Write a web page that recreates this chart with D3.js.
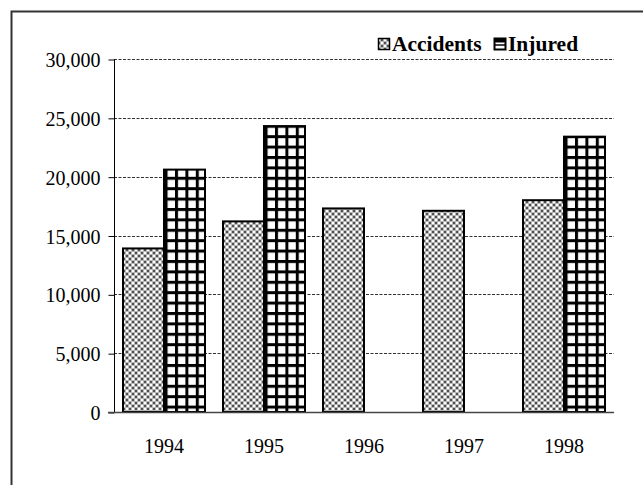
<!DOCTYPE html>
<html>
<head>
<meta charset="utf-8">
<script src="https://cdn.jsdelivr.net/npm/d3@7/dist/d3.min.js"></script>
<style>
  html, body { margin: 0; padding: 0; background: #fff; }
  svg { display: block; }
  text { font-family: "Liberation Serif", "Times New Roman", serif; fill: #000; }
</style>
</head>
<body>
<script>
const years = ["1994", "1995", "1996", "1997", "1998"];
const seriesNames = ["Accidents", "Injured"];
const accidents = [13900, 16200, 17300, 17100, 18000];
const injured = [20600, 24300, null, null, 23400];
const yTicks = [0, 5000, 10000, 15000, 20000, 25000, 30000];

const W = 643, H = 485;
const svg = d3.select("body").append("svg").attr("width", W).attr("height", H);
const defs = svg.append("defs");

// Accidents pattern: gray checker with white dots
const pA = defs.append("pattern").attr("id", "pA").attr("patternUnits", "userSpaceOnUse")
  .attr("width", 6).attr("height", 6);
pA.append("rect").attr("width", 6).attr("height", 6).attr("fill", "#b8b8b8");
pA.append("rect").attr("x", 0).attr("y", 0).attr("width", 2).attr("height", 2).attr("fill", "#505050");
pA.append("rect").attr("x", 3).attr("y", 3).attr("width", 2).attr("height", 2).attr("fill", "#505050");
pA.append("rect").attr("x", 3).attr("y", 0).attr("width", 2).attr("height", 2).attr("fill", "#ffffff");
pA.append("rect").attr("x", 0).attr("y", 3).attr("width", 2).attr("height", 2).attr("fill", "#ffffff");

// Injured pattern: white squares with thick black grid
const pI = defs.append("pattern").attr("id", "pI").attr("patternUnits", "userSpaceOnUse")
  .attr("width", 10.4).attr("height", 10.4);
pI.append("rect").attr("width", 10.4).attr("height", 10.4).attr("fill", "#ffffff");
pI.append("rect").attr("x", 0).attr("y", 0).attr("width", 3).attr("height", 10.4).attr("fill", "#000");
pI.append("rect").attr("x", 0).attr("y", 0).attr("width", 10.4).attr("height", 3).attr("fill", "#000");

// outer frame (left and top visible)
svg.append("rect").attr("x", 11.5).attr("y", 11.5).attr("width", 640).attr("height", 480)
  .attr("fill", "none").attr("stroke", "#333").attr("stroke-width", 2);

const pLeft = 114, pRight = 614, pTop = 59, pBottom = 412;
const y = d3.scaleLinear().domain([0, 30000]).range([pBottom, pTop]);
const x0 = d3.scaleBand().domain(years).range([pLeft, pRight]).paddingInner(0.18).paddingOuter(0.09);
const x1 = d3.scaleBand().domain(seriesNames).range([0, x0.bandwidth()]);

// gridlines
svg.append("g").selectAll("line").data(yTicks.filter(d => d > 0)).join("line")
  .attr("x1", pLeft).attr("x2", pRight)
  .attr("y1", d => Math.round(y(d)) + 0.5).attr("y2", d => Math.round(y(d)) + 0.5)
  .attr("stroke", "#333").attr("stroke-width", 1).attr("stroke-dasharray", "3,1.5");

// y axis
const yAxis = d3.axisLeft(y).tickValues(yTicks).tickSize(6).tickPadding(8)
  .tickFormat(d3.format(","));
const gy = svg.append("g").attr("transform", `translate(${pLeft + 0.5},0.5)`).call(yAxis);
gy.selectAll("text").style("font-size", "20px").attr("dy", "0.35em");
gy.selectAll("line").attr("stroke", "#000");
gy.select(".domain").attr("d", `M0,${pTop}V${pBottom}`).attr("stroke", "#000");

// bars
const data = years.map((yr, i) => ({ year: yr, vals: [
  { s: "Accidents", v: accidents[i] }, { s: "Injured", v: injured[i] }] }));
const groups = svg.append("g").selectAll("g").data(data).join("g")
  .attr("transform", d => `translate(${x0(d.year)},0)`);
groups.selectAll("rect").data(d => d.vals.filter(e => e.v != null)).join("rect")
  .attr("x", d => x1(d.s)).attr("y", d => y(d.v))
  .attr("width", x1.bandwidth()).attr("height", d => pBottom - y(d.v))
  .attr("fill", d => d.s === "Accidents" ? "url(#pA)" : "url(#pI)")
  .attr("stroke", "#000").attr("stroke-width", 2);

// x axis baseline
const xAxis = d3.axisBottom(x0).tickSize(0).tickPadding(26);
const gx = svg.append("g").attr("transform", `translate(0,${pBottom + 0.5})`).call(xAxis);
gx.select(".domain").attr("d", `M${pLeft - 6},0H${pRight}`).attr("stroke", "#444").attr("stroke-width", 1.5);
gx.selectAll("text").style("font-size", "20px");

// legend
const lg = svg.append("g");
lg.append("rect").attr("x", 371).attr("y", 31).attr("width", 221).attr("height", 26).attr("fill", "#fff");
// Accidents symbol
lg.append("rect").attr("x", 378.5).attr("y", 38.5).attr("width", 11).attr("height", 11)
  .attr("fill", "url(#pA)").attr("stroke", "#000").attr("stroke-width", 1.5);
lg.append("text").attr("x", 392).attr("y", 51).text(seriesNames[0])
  .style("font-size", "21.5px").style("font-weight", "bold");
// Injured symbol
lg.append("rect").attr("x", 494.5).attr("y", 38.5).attr("width", 11).attr("height", 11)
  .attr("fill", "#fff").attr("stroke", "#000").attr("stroke-width", 2);
lg.append("rect").attr("x", 494.5).attr("y", 38.5).attr("width", 11).attr("height", 4).attr("fill", "#000");
lg.append("line").attr("x1", 494.5).attr("x2", 505.5).attr("y1", 45).attr("y2", 45)
  .attr("stroke", "#000").attr("stroke-width", 1.5);
lg.append("text").attr("x", 508).attr("y", 51).text(seriesNames[1])
  .style("font-size", "21.5px").style("font-weight", "bold");
</script>
</body>
</html>
